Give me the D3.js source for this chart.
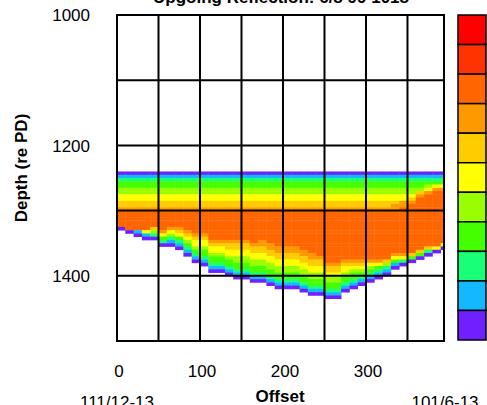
<!DOCTYPE html>
<html>
<head>
<meta charset="utf-8">
<script src="https://cdn.jsdelivr.net/npm/d3@7"></script>
<style>
  body { margin: 0; background: #fff; }
  svg { display: block; font-family: "Liberation Sans", Arial, sans-serif; }
</style>
</head>
<body>
<svg id="chart" width="487" height="405"></svg>
<script>
// colour levels, lowest (0) to highest (10)
const levelColors = ["#7020ff", "#14b8ff", "#18ff78", "#44ff00", "#99ff00", "#ffff00",
                     "#ffcc00", "#ff9900", "#ff6600", "#ff3300", "#ff0000"];

// heatmap columns (offset, 10 units wide) and rows (depth, 5 units tall)
const offsets = d3.range(0, 400, 10);
const depths = d3.range(1240, 1440, 5);

// upper band, read top-down from 1240 to 1295 (one char = one row level)
const topProfile = [
  "012334455667", "012334455667", "012334455667", "012334455667", "012334455667",
  "012334455667", "012334455667", "012334455667", "012334455667", "012334455667",
  "012334455667", "012334455667", "012334455667", "012334455667", "012334455667",
  "012334455667", "012334455667", "012334455667", "012334455667", "012334455667",
  "012334455667", "012334455667", "012334455667", "012334455667", "012334455667",
  "012334455667", "012334455667", "012334455667", "012334455667", "012334455667",
  "012334455667", "012334455667", "012334455667", "012334455677", "012334455778",
  "012334456788", "012334678888", "012345788888", "012357888888", "012357888888"
];

// lower band: bottom depth of each column and its edge, read bottom-up
const bottomDepth = [1330, 1335, 1340, 1345, 1345, 1355, 1355, 1360, 1370, 1380,
                     1385, 1395, 1395, 1400, 1405, 1405, 1410, 1410, 1415, 1420,
                     1420, 1420, 1425, 1430, 1430, 1435, 1435, 1425, 1420, 1415,
                     1410, 1405, 1400, 1390, 1385, 1380, 1375, 1370, 1365, 1360];
const edgeProfile = [
  "0", "0", "01", "015", "0246", "02357", "012457", "0123567", "01234567", "012345567",
  "0123345567", "0123345567", "0123345567", "01233455667", "012334455667", "012334455667",
  "012334455667", "0123344556677", "0123344556677", "0123344556677", "0123344556677",
  "0123344556677", "0123344556677", "0123344556677", "012334455667", "01233445667",
  "01233445667", "0123345567", "012334567", "01234567", "0123457", "012357", "01246",
  "01357", "0257", "036", "036", "026", "05", "05"
];
const fillLevel = 8;

const xTicks = [0, 100, 200, 300];
const yTicks = [1000, 1200, 1400];
const xGrid = [50, 100, 150, 200, 250, 300, 350];
const yGrid = [1100, 1200, 1300, 1400];

const titleText = "Upgoing Reflection: 6/8 99 1018";
const leftLabel = "111/12-13";
const rightLabel = "101/6-13";

// layout
const svg = d3.select("svg#chart");
const x = d3.scaleLinear().domain([0, 394]).range([117, 444]);
const y = d3.scaleLinear().domain([1000, 1500]).range([15, 341]);

// build cells
const cells = [];
offsets.forEach((off, c) => {
  depths.forEach(d => {
    let lev = null;
    if (d < 1300) {
      lev = +topProfile[c][(d - 1240) / 5];
    } else if (d < bottomDepth[c]) {
      const k = (bottomDepth[c] - d) / 5 - 1;
      lev = k < edgeProfile[c].length ? +edgeProfile[c][k] : fillLevel;
    }
    if (lev !== null) cells.push({ off, d, lev });
  });
});

svg.append("clipPath").attr("id", "plotClip")
  .append("rect")
  .attr("x", x(0)).attr("y", y(1000))
  .attr("width", x(394) - x(0)).attr("height", y(1500) - y(1000));

svg.append("g").attr("clip-path", "url(#plotClip)")
  .selectAll("rect")
  .data(cells)
  .join("rect")
  .attr("x", d => x(d.off))
  .attr("y", d => y(d.d))
  .attr("width", d => x(d.off + 10) - x(d.off) + 0.4)
  .attr("height", d => y(d.d + 5) - y(d.d) + 0.4)
  .attr("fill", d => levelColors[d.lev]);

// grid
const grid = svg.append("g").attr("stroke", "#000").attr("stroke-width", 2);
grid.selectAll("line.v").data(xGrid).join("line")
  .attr("class", "v")
  .attr("x1", d => x(d)).attr("x2", d => x(d))
  .attr("y1", y(1000)).attr("y2", y(1500));
grid.selectAll("line.h").data(yGrid).join("line")
  .attr("class", "h")
  .attr("x1", x(0)).attr("x2", x(394))
  .attr("y1", d => y(d)).attr("y2", d => y(d));
svg.append("rect")
  .attr("x", x(0)).attr("y", y(1000))
  .attr("width", x(394) - x(0)).attr("height", y(1500) - y(1000))
  .attr("fill", "none").attr("stroke", "#000").attr("stroke-width", 2);

// tick labels
svg.append("g").selectAll("text").data(xTicks).join("text")
  .attr("x", d => x(d) + 2).attr("y", 377)
  .attr("text-anchor", "middle").attr("font-size", 17)
  .text(d => d);
svg.append("g").selectAll("text").data(yTicks).join("text")
  .attr("x", 90).attr("y", d => y(d)).attr("dy", "0.36em")
  .attr("text-anchor", "end").attr("font-size", 17)
  .text(d => d);

// axis titles
svg.append("text")
  .attr("transform", "translate(27,168) rotate(-90)")
  .attr("text-anchor", "middle").attr("font-size", 17).attr("font-weight", "bold")
  .text("Depth (re PD)");
svg.append("text")
  .attr("x", 280).attr("y", 402)
  .attr("text-anchor", "middle").attr("font-size", 17).attr("font-weight", "bold")
  .text("Offset");
svg.append("text")
  .attr("x", 117).attr("y", 408)
  .attr("text-anchor", "middle").attr("font-size", 17)
  .text(leftLabel);
svg.append("text")
  .attr("x", 445).attr("y", 408)
  .attr("text-anchor", "middle").attr("font-size", 17)
  .text(rightLabel);
svg.append("text")
  .attr("x", 281).attr("y", 3)
  .attr("text-anchor", "middle").attr("font-size", 17).attr("font-weight", "bold")
  .text(titleText);

// colour bar
const levels = d3.range(levelColors.length).reverse();
const cb = d3.scaleBand().domain(levels).range([15, 340]);
svg.append("g").selectAll("rect").data(levels).join("rect")
  .attr("x", 458).attr("y", d => cb(d))
  .attr("width", 28).attr("height", cb.bandwidth())
  .attr("fill", d => levelColors[d])
  .attr("stroke", "#000").attr("stroke-width", 1.5);
</script>
</body>
</html>
